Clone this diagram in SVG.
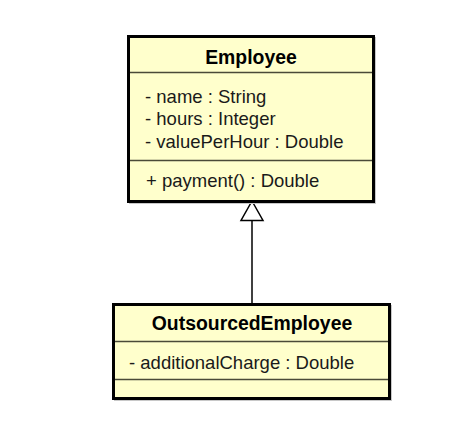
<svg xmlns="http://www.w3.org/2000/svg" width="464" height="436" viewBox="0 0 464 436">
<style>
.box{fill:#ffffcc;stroke:#000;stroke-width:3}
.shadow{fill:#c8c8c8}
.div{stroke:#4a4a38;stroke-width:1.3;fill:none}
.t{font-family:"Liberation Sans",Arial,sans-serif;font-size:18.5px;fill:#1a1a1a}
.b{font-weight:bold;text-anchor:middle;font-size:19.4px;fill:#000}
.edge{stroke:#000;stroke-width:1.5;fill:none}
</style>
<rect width="464" height="436" fill="#fff"/>
<g id="connectors">
<line class="edge" x1="252" y1="303" x2="252" y2="221"/>
<path d="M252 201 L263 220.5 L241 220.5 Z" fill="#fff" stroke="#000" stroke-width="1.5"/>
</g>
<g id="Employee">
<rect class="shadow" x="129" y="37" width="247" height="167"/>
<rect class="box" x="128.5" y="36.5" width="245" height="165"/>
<line class="div" x1="130" y1="72.5" x2="372" y2="72.5"/>
<line class="div" x1="130" y1="160.5" x2="372" y2="160.5"/>
<text class="t b" x="251" y="63.5">Employee</text>
<text class="t" x="145" y="102.5">- name : String</text>
<text class="t" x="145" y="125">- hours : Integer</text>
<text class="t" x="145" y="148">- valuePerHour : Double</text>
<text class="t" x="146" y="186.5">+ payment() : Double</text>
</g>
<g id="OutsourcedEmployee">
<rect class="shadow" x="114" y="305" width="278" height="96"/>
<rect class="box" x="113.5" y="304.5" width="276" height="94"/>
<line class="div" x1="115" y1="341.5" x2="388" y2="341.5"/>
<line class="div" x1="115" y1="379.5" x2="388" y2="379.5"/>
<text class="t b" x="252" y="330">OutsourcedEmployee</text>
<text class="t" x="129" y="368.5">- additionalCharge : Double</text>
</g>
</svg>
